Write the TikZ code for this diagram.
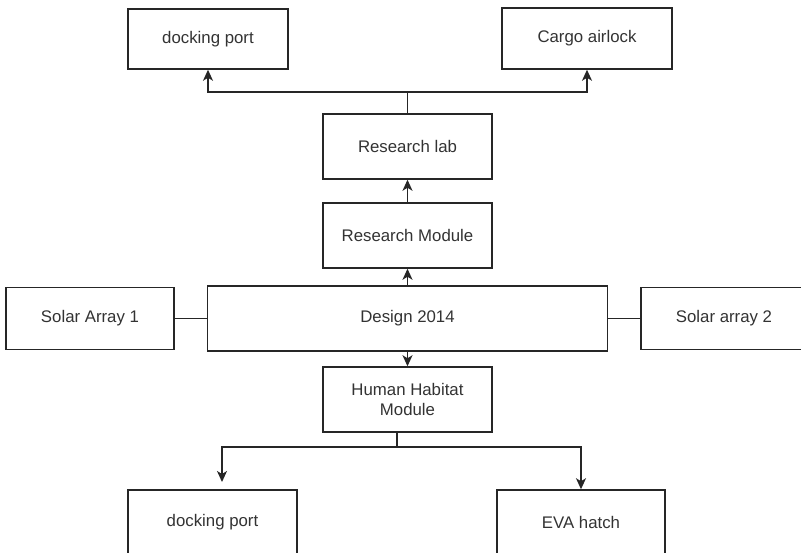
\documentclass[tikz,border=0pt]{standalone}
\usepackage{fontspec}
\setmainfont{Liberation Sans}
\usetikzlibrary{arrows.meta}
\definecolor{ln}{HTML}{262626}
\definecolor{tx}{HTML}{333333}
\begin{document}
\begin{tikzpicture}[x=1pt,y=-1pt,
  box/.style 2 args={draw=ln, line width=1.5pt, fill=white, inner sep=0pt,
    minimum width=#1, minimum height=#2, text=tx, align=center,
    font=\fontsize{16.8}{20.5}\selectfont},
  conn/.style={draw=ln, line width=1.5pt},
  arr/.style={conn, -{Stealth[length=11pt,width=10pt,inset=3pt]}}]
\useasboundingbox (0,0) rectangle (801,553);
\clip (0,0) rectangle (801,553);
% boxes
\node[box={160pt}{60pt}] (dp1) at (208,39) {docking port};
\node[box={170pt}{61pt}] (cargo) at (587,38.5) {Cargo airlock};
\node[box={169pt}{65pt}] (lab) at (407.5,146.5) {Research lab};
\node[box={169pt}{65pt}] (rmod) at (407.5,235.5) {Research Module};
\node[box={400pt}{65pt}] (design) at (407.5,318.5) {Design 2014};
\node[box={168pt}{62pt}] (sa1) at (90,318.5) {Solar Array 1};
\node[box={166pt}{62pt}] (sa2) at (724,318.5) {Solar array 2};
\node[box={169pt}{65pt}] (hab) at (407.5,399.5) {Human Habitat\\Module};
\node[box={169pt}{65pt}] (dp2) at (212.5,522.5) {docking port};
\node[box={168pt}{65pt}] (eva) at (581,522.5) {EVA hatch};
% top branch
\coordinate (j1) at (407.5,92);
\draw[conn] (lab.north) -- (j1);
\draw[arr] (j1) -| (dp1.south);
\draw[arr] (j1) -| (cargo.south);
% spine
\draw[arr] (rmod.north) -- (lab.south);
\draw[arr] (design.north) -- (rmod.south);
\draw[arr] (design.south) -- (hab.north);
% solar arrays
\draw[conn] (design.west) -- (sa1.east);
\draw[conn] (design.east) -- (sa2.west);
% bottom branch
\coordinate (hb) at ([xshift=-10.5pt]hab.south);
\coordinate (j2) at (397,447);
\coordinate (la) at (222,482);
\draw[conn, line width=2.6pt] (hb) -- (j2);
\draw[arr] (j2) -| (la);
\draw[arr] (j2) -| (eva.north);
\end{tikzpicture}
\end{document}
